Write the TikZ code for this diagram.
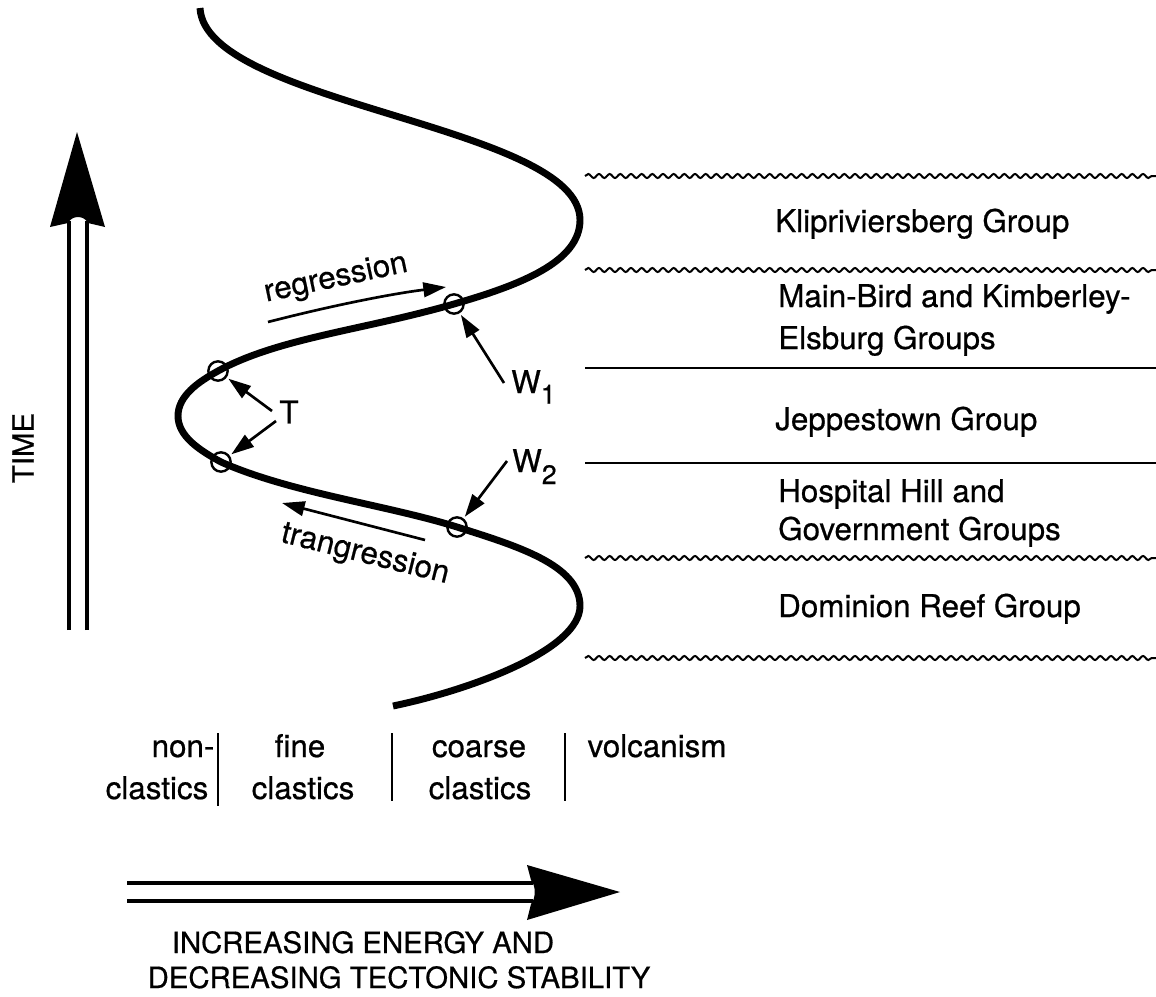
\documentclass[tikz,border=0pt]{standalone}
\usepackage{fontspec}
\setmainfont{TeX Gyre Heros}[FakeBold=0.6]
\usetikzlibrary{arrows.meta,decorations.pathmorphing}
\begin{document}
\begin{tikzpicture}[x=0.75pt,y=-0.75pt,
  curve/.style={line width=5.2pt},
  shaft/.style={line width=2.3pt},
  sepl/.style={line width=2pt},
  wavy/.style={line width=1.5pt,decorate,decoration={snake,segment length=8pt,amplitude=1.5pt}},
  circ/.style={circle,draw,line width=1.8pt,minimum size=14.5pt,inner sep=0pt},
  ptr/.style={line width=2pt,shorten >=1.5pt,-{Triangle[length=17pt,width=11pt]}},
  lbl/.style={font=\fontsize{23.5}{28}\selectfont,anchor=base west,inner sep=0pt},
  col/.style={font=\fontsize{23.5}{28}\selectfont,anchor=base,inner sep=0pt},
  captext/.style={font=\fontsize{22}{26}\selectfont,anchor=base,inner sep=0pt},
]
\useasboundingbox (0,0) rectangle (1156,996);

% boundaries on the right
\draw[wavy] (585,176) -- (1156,176);
\draw[wavy] (585,270) -- (1156,270);
\draw[sepl] (585,368) -- (1156,368);
\draw[sepl] (585,463) -- (1156,463);
\draw[wavy] (585,558) -- (1156,558);
\draw[wavy] (585,658) -- (1156,658);

% group labels
\node[lbl] (kl) at (775,232) {Klipriviersberg Group};
\node[lbl] (mb) at (778,307) {Main-Bird and Kimberley-};
\node[lbl] (el) at (778,349) {Elsburg Groups};
\node[lbl] (je) at (775,430) {Jeppestown Group};
\node[lbl] (ho) at (778,502) {Hospital Hill and};
\node[lbl] (go) at (778,540) {Government Groups};
\node[lbl] (do) at (778,617) {Dominion Reef Group};

% markers on the curve
\node[circ] (w1) at (454,304) {};
\node[circ] (ta) at (218,371) {};
\node[circ] (tb) at (221,462) {};
\node[circ] (w2) at (457,527) {};

\coordinate (p0) at (200,8);
\coordinate (p1) at (580,220);
\coordinate (lm) at (178,416);
\coordinate (p2) at (580,606);
\coordinate (p3) at (393,706);

\draw[curve] (p0) .. controls (205,105) and (580,125) .. (p1)
  .. controls (580,262) and (520,285) .. (w1.center)
  .. controls (364,330) and (278,338) .. (ta.center)
  .. controls (198,382) and (178,396) .. (lm)
  .. controls (178,436) and (199,450) .. (tb.center)
  .. controls (291,493) and (387,505) .. (w2.center)
  .. controls (517,546) and (580,565) .. (p2)
  .. controls (580,650) and (470,690) .. (p3);

% labels and pointers
\node[lbl] (w1l) at (511,393) {W\raisebox{-8pt}{\fontsize{20}{20}\selectfont 1}};
\coordinate (w1s) at (504,383);
\draw[ptr] (w1s) -- (w1);

\node[lbl] (w2l) at (512,472) {W\raisebox{-9pt}{\fontsize{20}{20}\selectfont 2}};
\coordinate (w2s) at (507,461);
\draw[ptr] (w2s) -- (w2);

\node[col,anchor=center] (tl) at (289,412) {T};
\coordinate (tas) at (272,411);
\coordinate (tbs) at (276,421);
\draw[ptr] (tas) -- (ta);
\draw[ptr] (tbs) -- (tb);

\coordinate (rg0) at (268,322);
\coordinate (rg1) at (446,287);
\draw[ptr,shorten >=0pt] (rg0) .. controls (330,306) and (390,294) .. (rg1);
\node[font=\fontsize{23.5}{28}\selectfont,rotate=12,inner sep=0pt] (rgl) at (336,279) {regression};

\coordinate (tr0) at (425,540);
\coordinate (tr1) at (282,503);
\draw[ptr,shorten >=0pt] (tr0) -- (tr1);
\node[font=\fontsize{23.5}{28}\selectfont,rotate=-14,inner sep=0pt] (trl) at (365,555) {trangression};

% time arrow
\fill (77,132) -- (105,227) -- (88,223) .. controls (84,215) and (72,215) .. (68,223) -- (50,227) -- cycle;
\draw[shaft] (69,630) -- (69,221);
\draw[shaft] (87,630) -- (87,221);
\node[font=\fontsize{22}{26}\selectfont,rotate=90] (time) at (23,448) {TIME};

% column labels
\node[col] (c1a) at (183,757) {non-};
\node[col] (c1b) at (157,799) {clastics};
\node[col] (c2a) at (300,757) {fine};
\node[col] (c2b) at (303,799) {clastics};
\node[col] (c3a) at (479,757) {coarse};
\node[col] (c3b) at (480,799) {clastics};
\node[col] (c4a) at (657,757) {volcanism};
\draw[sepl] (218,733) -- (218,806);
\draw[sepl] (392,733) -- (392,801);
\draw[sepl] (565,733) -- (565,801);

% energy arrow
\fill (620,892) -- (527,865) -- (531,880) .. controls (536,886) and (536,898) .. (531,904) -- (527,920) -- cycle;
\draw[shaft] (127,883) -- (533,883);
\draw[shaft] (127,901) -- (533,901);
\node[captext] (e1) at (363,953) {INCREASING ENERGY AND};
\node[captext] (e2) at (399,988) {DECREASING TECTONIC STABILITY};
\end{tikzpicture}
\end{document}
